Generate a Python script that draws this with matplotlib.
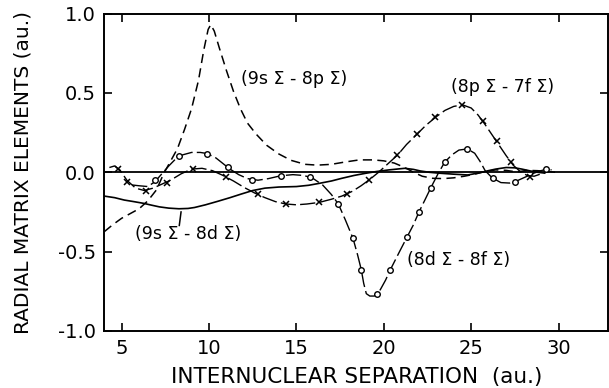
import numpy as np
import matplotlib
matplotlib.use("Agg")
import matplotlib.pyplot as plt

# (9s Sigma - 8p Sigma), dashed
x_sp = [4.0, 4.5, 5.0, 5.5, 6.0, 6.5, 7.0, 7.4, 7.8, 8.2, 8.6, 9.0, 9.4, 9.7, 9.95,
        10.1, 10.3, 10.6, 11.0, 11.4, 11.8, 12.2, 12.7, 13.3, 14.0, 14.7, 15.5, 16.2,
        17.0, 17.8, 18.6, 19.4, 20.0, 20.6, 21.2, 21.7, 22.2, 22.8, 23.4, 24.0, 24.6,
        25.2, 25.8, 26.4, 27.0, 27.6, 28.2, 28.8, 29.4, 29.8]
y_sp = [-0.375, -0.33, -0.29, -0.26, -0.23, -0.18, -0.11, -0.01, 0.07, 0.15, 0.27, 0.40,
        0.58, 0.77, 0.90, 0.93, 0.89, 0.78, 0.64, 0.51, 0.40, 0.31, 0.24, 0.17, 0.115,
        0.075, 0.05, 0.045, 0.05, 0.065, 0.078, 0.078, 0.072, 0.058, 0.03, 0.0, -0.025,
        -0.038, -0.04, -0.035, -0.025, -0.012, 0.005, 0.015, 0.012, 0.002, 0.012, 0.01,
        0.005, 0.0]

# (8p Sigma - 7f Sigma), dashes with x marks
x_pf = [4.3, 4.6, 4.9, 5.3, 5.8, 6.3, 6.8, 7.3, 7.8, 8.4, 9.0, 9.6, 10.2, 10.8, 11.4,
        12.0, 12.6, 13.2, 13.8, 14.4, 15.0, 15.6, 16.3, 17.0, 17.6, 18.2, 18.7, 19.2,
        19.7, 20.2, 20.8, 21.3, 21.9, 22.4, 23.0, 23.5, 24.0, 24.5, 25.0, 25.4, 25.8,
        26.2, 26.6, 27.0, 27.4, 27.8, 28.2, 28.6, 29.0, 29.3]
y_pf = [0.03, 0.04, 0.015, -0.05, -0.10, -0.115, -0.10, -0.075, -0.05, -0.01, 0.02,
        0.025, 0.01, -0.02, -0.055, -0.095, -0.13, -0.16, -0.185, -0.2, -0.205, -0.2,
        -0.19, -0.17, -0.15, -0.12, -0.085, -0.045, 0.0, 0.05, 0.11, 0.175, 0.24, 0.295,
        0.35, 0.39, 0.415, 0.425, 0.405, 0.36, 0.30, 0.235, 0.17, 0.105, 0.045, 0.005,
        -0.02, -0.025, -0.01, 0.0]
xm_pf = [4.82, 5.33, 6.38, 7.6, 9.1, 10.95, 12.8, 14.4, 16.3, 17.87, 19.16, 20.76,
         21.88, 22.95, 24.5, 25.67, 26.45, 27.27, 28.35]
ym_pf = [0.02, -0.06, -0.115, -0.065, 0.02, -0.03, -0.14, -0.2, -0.19, -0.137, -0.048,
         0.11, 0.24, 0.35, 0.425, 0.324, 0.194, 0.067, -0.027]

# (8d Sigma - 8f Sigma), dashes with circles
x_df = [5.6, 6.0, 6.5, 6.9, 7.3, 7.7, 8.1, 8.5, 9.0, 9.5, 9.9, 10.4, 10.8, 11.2, 11.7,
        12.2, 12.8, 13.4, 14.1, 14.8, 15.4, 15.9, 16.5, 17.0, 17.4, 17.8, 18.24, 18.5,
        18.71, 18.85, 19.0, 19.2, 19.45, 19.6, 19.8, 20.1, 20.38, 20.9, 21.34, 21.7,
        22.0, 22.35, 22.68, 23.1, 23.48, 23.9, 24.3, 24.78, 25.2, 25.5, 25.8, 26.2,
        26.7, 27.2, 27.6, 28.1, 28.6, 29.0, 29.3, 29.6]
y_df = [-0.08, -0.085, -0.09, -0.06, -0.01, 0.04, 0.085, 0.11, 0.125, 0.125, 0.118,
        0.09, 0.055, 0.02, -0.015, -0.04, -0.05, -0.04, -0.022, -0.015, -0.02, -0.035,
        -0.08, -0.14, -0.2, -0.3, -0.417, -0.52, -0.613, -0.70, -0.765, -0.78, -0.78,
        -0.77, -0.74, -0.68, -0.613, -0.50, -0.406, -0.33, -0.253, -0.175, -0.10, -0.01,
        0.063, 0.11, 0.14, 0.147, 0.12, 0.07, 0.01, -0.035, -0.065, -0.068, -0.055,
        -0.03, -0.005, 0.01, 0.02, 0.015]
xm_df = [6.9, 8.28, 9.88, 11.06, 12.47, 14.12, 15.8, 17.37, 18.24, 18.71, 19.6, 20.38,
         21.34, 22.0, 22.68, 23.48, 24.78, 26.27, 27.52, 29.3]
ym_df = [-0.05, 0.103, 0.118, 0.032, -0.048, -0.021, -0.032, -0.2, -0.417, -0.613, -0.77,
         -0.613, -0.406, -0.253, -0.10, 0.063, 0.147, -0.038, -0.059, 0.02]

# (9s Sigma - 8d Sigma), solid
x_sd = [4.0, 4.6, 5.15, 5.7, 6.27, 6.7, 7.16, 7.7, 8.28, 8.8, 9.17, 9.8, 10.5, 11.2,
        11.85, 12.5, 13.2, 14.0, 15.0, 15.7, 16.3, 17.0, 17.6, 18.3, 18.98, 19.6, 20.3,
        21.2, 21.7, 22.1, 22.6, 23.2, 24.0, 24.8, 25.4, 25.9, 26.4, 27.0, 27.5, 27.9,
        28.4, 28.8, 29.2]
y_sd = [-0.15, -0.16, -0.175, -0.185, -0.196, -0.207, -0.218, -0.226, -0.23, -0.228,
        -0.222, -0.205, -0.183, -0.16, -0.137, -0.115, -0.10, -0.093, -0.09, -0.082,
        -0.07, -0.055, -0.038, -0.02, -0.006, 0.005, 0.015, 0.025, 0.018, 0.008, 0.0,
        -0.006, -0.012, -0.017, -0.005, 0.008, 0.02, 0.03, 0.028, 0.02, 0.008, 0.0,
        -0.005]

labels = ["(9s Σ - 8p Σ)", "(8p Σ - 7f Σ)", "(9s Σ - 8d Σ)", "(8d Σ - 8f Σ)"]
label_xy = [(11.85, 0.59), (23.84, 0.535), (5.78, -0.39), (21.3, -0.554)]

fig = plt.figure(figsize=(6.09, 3.88), dpi=100)
ax = fig.add_axes([0.171, 0.147, 0.828, 0.818])

ax.axhline(0, color='k', lw=1.3)
ax.plot(x_sp, y_sp, color='k', lw=1.1, dashes=(6, 3.5))
ax.plot(x_pf, y_pf, color='k', lw=1.0, dashes=(11, 3))
ax.plot(xm_pf, ym_pf, 'x', color='k', ms=4, mew=1.1)
ax.plot(x_df, y_df, color='k', lw=1.0, dashes=(11, 3))
ax.plot(xm_df, ym_df, 'o', mfc='white', mec='k', ms=4, mew=1.0)
ax.plot(x_sd, y_sd, color='k', lw=1.2)
ax.plot([8.4, 8.3], [-0.25, -0.335], color='k', lw=1.1)

for s, (tx, ty) in zip(labels, label_xy):
    ax.text(tx, ty, s, fontsize=12.5, ha='left', va='center')

ax.set_xlim(4, 32.85)
ax.set_ylim(-1, 1)
ax.set_xticks([5, 10, 15, 20, 25, 30])
ax.set_yticks([-1.0, -0.5, 0.0, 0.5, 1.0])
ax.set_yticklabels(['-1.0', '-0.5', '0.0', '0.5', '1.0'])
ax.tick_params(direction='in', length=6, width=1.2, labelsize=14, top=True, right=True,
               pad=6)
for sp in ax.spines.values():
    sp.set_linewidth(1.4)

ax.set_xlabel("INTERNUCLEAR SEPARATION  (au.)", fontsize=15.5, labelpad=6)
ax.set_ylabel("RADIAL MATRIX ELEMENTS (au.)", fontsize=14.5, labelpad=18)

fig.savefig("out.png", dpi=100)
